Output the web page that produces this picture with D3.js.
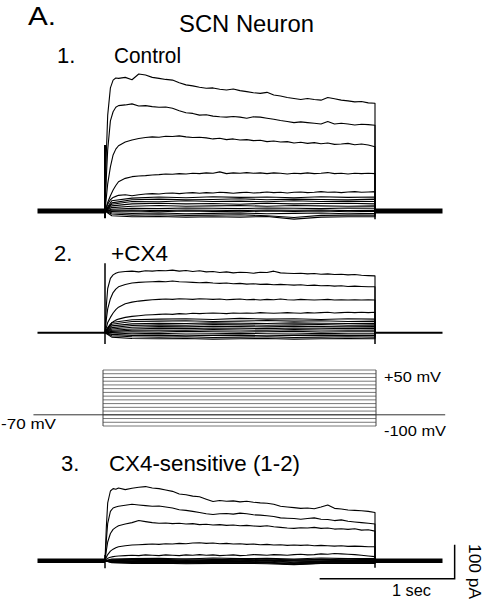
<!DOCTYPE html>
<html>
<head>
<meta charset="utf-8">
<script src="https://cdn.jsdelivr.net/npm/d3@7"></script>
<style>
  body { margin: 0; background: #fff; }
  svg text { font-family: "Liberation Sans", Arial, sans-serif; fill: #000; }
</style>
</head>
<body>
<div id="chart"></div>
<script>
// time points (s) during the 2 s step; fine grid for big traces, coarse for small ones
const tFine = [0, 0.01, 0.02, 0.04, 0.06, 0.08, 0.1, 0.15, 0.2, 0.25, 0.3, 0.35, 0.4, 0.45, 0.5,
  0.55, 0.6, 0.65, 0.7, 0.75, 0.8, 0.85, 0.9, 0.95, 1.0, 1.05, 1.1, 1.15, 1.2, 1.25, 1.3, 1.35,
  1.4, 1.45, 1.5, 1.55, 1.6, 1.65, 1.7, 1.75, 1.8, 1.85, 1.9, 1.95, 2.0];
const tCoarse = [0, 0.05, 0.2, 0.4, 0.6, 0.8, 1.0, 1.2, 1.4, 1.6, 1.8, 2.0];

// command steps (mV) and holding potential
const stepVoltages = [50, 40, 30, 20, 10, 0, -10, -20, -30, -40, -50, -60, -70, -80, -90, -100];
const holdingV = -70;

// 1. Control currents (pA), +50..+10 mV on tFine
const controlLarge = [
  [0, 170, 282, 362, 385, 391, 390, 393, 386, 403, 400, 393, 390, 387, 385, 377, 371, 368, 364, 361, 362, 358, 356, 359, 354, 351, 348, 346, 349, 341, 338, 334, 331, 328, 331, 328, 326, 334, 330, 326, 324, 321, 322, 318, 317],
  [0, 100, 180, 265, 292, 305, 310, 312, 315, 309, 310, 307, 305, 306, 302, 295, 289, 287, 282, 283, 279, 277, 276, 278, 276, 273, 277, 276, 273, 270, 266, 263, 260, 262, 260, 258, 256, 263, 256, 258, 256, 253, 255, 254, 252],
  [0, 40, 80, 130, 165, 182, 192, 203, 209, 213, 216, 218, 217, 220, 219, 221, 218, 216, 217, 215, 212, 214, 210, 212, 209, 210, 207, 208, 204, 206, 203, 204, 200, 202, 199, 201, 198, 200, 196, 197, 199, 195, 197, 194, 189],
  [0, 12, 25, 45, 62, 75, 86, 96, 101, 103, 104, 106, 107, 109, 108, 110, 109, 111, 110, 112, 111, 115, 110, 112, 111, 113, 111, 112, 110, 112, 111, 109, 111, 110, 112, 110, 111, 113, 110, 111, 109, 111, 110, 111, 110],
  [0, 10, 20, 33, 40, 43, 46, 48, 45, 48, 50, 51, 50, 52, 53, 51, 53, 54, 52, 54, 53, 55, 54, 52, 54, 55, 53, 54, 56, 54, 55, 53, 55, 56, 54, 55, 57, 55, 56, 54, 56, 57, 55, 56, 57]
];
// 0..-100 mV on tCoarse
const controlSmall = [
  [0, 30, 38, 41, 39, 42, 40, 41, 39, 42, 40, 41],
  [0, 24, 33, 35, 33, 34, 36, 33, 35, 34, 33, 35],
  [0, 20, 28, 27, 30, 28, 29, 27, 30, 28, 29, 28],
  [0, 15, 21, 23, 21, 22, 20, 23, 21, 22, 23, 21],
  [0, 10, 14, 16, 14, 15, 16, 14, 16, 15, 14, 15],
  [0, 5, 8, 7, 9, 8, 7, 9, 8, 7, 9, 8],
  [0, 2, 3, 1, 3, 2, 1, 3, 2, 3, 1, 2],
  [0, -1, 0, -2, 0, -1, -2, 0, -1, 0, -2, -1],
  [0, -5, -7, -6, -8, -7, -6, -8, -7, -6, -8, -7],
  [0, -9, -12, -11, -13, -12, -11, -14, -19, -13, -12, -12],
  [0, -14, -17, -16, -18, -17, -18, -16, -24, -18, -17, -17]
];

// 2. +CX4 currents (pA), +50..+20 mV on tFine
const cx4Large = [
  [0, 80, 130, 160, 170, 175, 178, 180, 181, 179, 182, 181, 183, 182, 184, 181, 183, 180, 182, 179, 180, 177, 179, 176, 178, 177, 175, 178, 177, 181, 176, 175, 174, 175, 173, 174, 172, 173, 171, 172, 170, 171, 169, 168, 167],
  [0, 40, 70, 100, 118, 128, 135, 142, 146, 148, 149, 150, 151, 150, 152, 150, 149, 148, 147, 148, 146, 145, 146, 144, 145, 143, 144, 142, 143, 141, 142, 141, 140, 141, 139, 140, 138, 139, 137, 138, 136, 137, 136, 135, 135],
  [0, 15, 30, 45, 58, 68, 75, 85, 90, 93, 95, 97, 98, 99, 98, 100, 99, 98, 100, 99, 98, 99, 97, 98, 99, 97, 98, 96, 98, 97, 99, 97, 96, 98, 97, 96, 97, 98, 96, 97, 96, 97, 96, 97, 96],
  [0, 8, 15, 25, 32, 37, 40, 45, 48, 50, 52, 53, 54, 55, 54, 56, 55, 57, 56, 57, 58, 57, 56, 58, 57, 58, 57, 59, 58, 57, 58, 59, 58, 57, 59, 58, 59, 60, 58, 59, 60, 59, 60, 59, 60]
];
// +10..-100 mV on tCoarse
const cx4Small = [
  [0, 30, 38, 40, 41, 39, 42, 40, 41, 39, 41, 40],
  [0, 25, 33, 34, 35, 33, 34, 36, 34, 35, 33, 34],
  [0, 20, 26, 28, 27, 29, 28, 27, 29, 28, 27, 28],
  [0, 15, 21, 23, 22, 24, 23, 22, 23, 24, 22, 23],
  [0, 11, 16, 18, 17, 19, 18, 17, 19, 18, 17, 18],
  [0, 7, 11, 13, 12, 14, 13, 12, 14, 13, 12, 13],
  [0, 4, 7, 8, 7, 9, 8, 7, 9, 8, 7, 8],
  [0, 1, 3, 2, 4, 3, 2, 3, 4, 2, 3, 3],
  [0, -1, -3, -2, -4, -3, -2, -3, -4, -2, -3, -3],
  [0, -5, -8, -7, -9, -8, -7, -9, -8, -7, -8, -8],
  [0, -9, -12, -13, -12, -14, -13, -12, -14, -13, -12, -13],
  [0, -13, -17, -18, -17, -19, -18, -17, -19, -18, -17, -18]
];

// 3. CX4-sensitive (1-2) currents (pA), +50..+10 mV on tFine
const diffLarge = [
  [0, 100, 170, 205, 212, 210, 214, 209, 213, 216, 218, 214, 212, 208, 204, 196, 194, 190, 188, 181, 174, 177, 175, 176, 173, 175, 172, 170, 169, 166, 160, 158, 156, 154, 155, 153, 158, 164, 154, 152, 149, 148, 147, 145, 142],
  [0, 60, 110, 145, 155, 158, 160, 163, 166, 164, 162, 160, 161, 158, 155, 150, 148, 145, 142, 138, 136, 138, 139, 137, 140, 138, 135, 134, 132, 130, 126, 125, 124, 122, 124, 126, 122, 121, 118, 120, 116, 114, 112, 110, 108],
  [0, 30, 55, 80, 92, 98, 103, 108, 112, 118, 115, 112, 110, 111, 109, 110, 108, 109, 106, 107, 105, 106, 104, 105, 103, 104, 102, 101, 103, 100, 98, 96, 95, 97, 96, 98, 95, 96, 93, 94, 92, 94, 90, 91, 87],
  [0, 10, 18, 28, 34, 38, 41, 44, 46, 47, 48, 49, 48, 50, 49, 51, 50, 52, 53, 51, 52, 50, 51, 49, 50, 48, 49, 47, 48, 46, 47, 45, 46, 45, 46, 44, 45, 44, 43, 44, 42, 43, 42, 41, 41],
  [0, 4, 7, 10, 12, 13, 14, 15, 16, 15, 17, 16, 15, 17, 16, 15, 17, 16, 18, 16, 17, 15, 16, 17, 15, 16, 18, 17, 16, 18, 17, 16, 18, 19, 17, 18, 20, 19, 21, 20, 19, 18, 16, 14, 12]
];
// 0..-100 mV on tCoarse
const diffSmall = [
  [0, 5, 6, 7, 5, 8, 6, 7, 5, 8, 6, 6],
  [0, 3, 4, 3, 5, 4, 3, 5, 2, 4, 3, 4],
  [0, 2, 2, 3, 1, 2, 3, 1, 3, 2, 1, 2],
  [0, 1, 0, 2, -1, 1, 0, 2, 0, -1, 1, 0],
  [0, 0, -1, 1, -2, 0, -1, 1, -1, -2, 0, -1],
  [0, -1, -2, 0, -3, -1, -2, 0, -4, -2, -1, -2],
  [0, -2, -3, -1, -4, -2, -3, -1, -6, -3, -2, -3],
  [0, -3, -4, -2, -5, -3, -4, -5, -8, -4, -3, -4],
  [0, -4, -5, -3, -6, -5, -4, -6, -10, -5, -4, -5],
  [0, -5, -6, -5, -7, -6, -7, -6, -11, -7, -6, -6],
  [0, -6, -8, -7, -9, -8, -7, -9, -12, -8, -7, -8]
];

// capacitive transients at step onset [min, max] and at step end (min), pA
const onsetTransients = [[-21, 194], [-33, 204], [-22, 17]];
const offsetTransients = [-24, -33, -21];

const panelNumbers = ["1.", "2.", "3."];
const panelTitles = ["Control", "+CX4", "CX4-sensitive (1-2)"];

class TraceFigure {
  constructor(_config) {
    this.config = {
      parentElement: _config.parentElement,
      containerWidth: _config.containerWidth || 487,
      containerHeight: _config.containerHeight || 611,
      timeRange: _config.timeRange || [37.5, 442.5],
      pxPer100pA: _config.pxPer100pA || 34,
    };
    this.initVis();
  }

  initVis() {
    let vis = this;

    vis.svg = d3
      .select(vis.config.parentElement)
      .append("svg")
      .attr("width", vis.config.containerWidth)
      .attr("height", vis.config.containerHeight);

    vis.xScale = d3.scaleLinear().domain([-0.5, 2.5]).range(vis.config.timeRange);

    // baselines (px) and onset line widths for each current panel
    vis.panels = [
      { base: 211, large: controlLarge, small: controlSmall, band: 5, numX: 57, numY: 63, titleX: 114, titleLen: 67 },
      { base: 332.7, large: cx4Large, small: cx4Small, band: 2, numX: 54, numY: 261, titleX: 111, titleLen: 57 },
      { base: 560.7, large: diffLarge, small: diffSmall, band: 4.5, numX: 61, numY: 471, titleX: 109, titleLen: 191 }
    ];

    vis.panels.forEach((p) => {
      p.yScale = d3
        .scaleLinear()
        .domain([0, 100])
        .range([p.base, p.base - vis.config.pxPer100pA]);
    });

    vis.vScale = d3.scaleLinear().domain([-100, 50]).range([426, 370]);

    vis.renderVis();
  }

  renderVis() {
    let vis = this;
    const x = vis.xScale;

    // headings
    vis.svg.append("text").text("A.")
      .attr("x", 28).attr("y", 25)
      .attr("font-size", 26).attr("textLength", 28).attr("lengthAdjust", "spacingAndGlyphs");
    vis.svg.append("text").text("SCN Neuron")
      .attr("x", 179).attr("y", 32)
      .attr("font-size", 23).attr("textLength", 135).attr("lengthAdjust", "spacingAndGlyphs");

    vis.panels.forEach((p, i) => {
      const y = p.yScale;
      const g = vis.svg.append("g").attr("class", "panel-" + (i + 1));

      g.append("text").text(panelNumbers[i])
        .attr("x", p.numX).attr("y", p.numY).attr("font-size", 22);
      g.append("text").text(panelTitles[i])
        .attr("x", p.titleX).attr("y", p.numY).attr("font-size", 22)
        .attr("textLength", p.titleLen).attr("lengthAdjust", "spacingAndGlyphs");

      const line = d3.line().x((d) => x(d[0])).y((d) => y(d[1]));

      const traces = [];
      p.large.forEach((vals) => traces.push(tFine.map((t, k) => [t, vals[k]])));
      p.small.forEach((vals) => traces.push(tCoarse.map((t, k) => [t, vals[k]])));

      // holding current before and after the step
      g.selectAll(".hold")
        .data([[-0.5, 0], [2, 2.5]])
        .enter().append("line")
        .attr("class", "hold")
        .attr("x1", (d) => x(d[0])).attr("x2", (d) => x(d[1]))
        .attr("y1", y(0)).attr("y2", y(0))
        .attr("stroke", "#000").attr("stroke-width", p.band);

      g.selectAll(".trace")
        .data(traces)
        .enter().append("path")
        .attr("class", "trace")
        .attr("d", (d) => line([[0, 0]].concat(d, [[2, 0]])))
        .attr("fill", "none")
        .attr("stroke", "#000")
        .attr("stroke-width", 1.1)
        .attr("stroke-linejoin", "round");

      // capacitive transients
      g.append("line")
        .attr("x1", x(0)).attr("x2", x(0))
        .attr("y1", y(onsetTransients[i][0])).attr("y2", y(onsetTransients[i][1]))
        .attr("stroke", "#000").attr("stroke-width", i === 0 ? 2 : 1.5);
      g.append("line")
        .attr("x1", x(2)).attr("x2", x(2))
        .attr("y1", y(offsetTransients[i])).attr("y2", y(0))
        .attr("stroke", "#000").attr("stroke-width", 1.5);
    });

    // voltage protocol
    const v = vis.vScale;
    const proto = vis.svg.append("g").attr("class", "protocol");
    proto.selectAll(".step")
      .data(stepVoltages)
      .enter().append("line")
      .attr("class", "step")
      .attr("x1", x(0) - 2).attr("x2", x(2) + 1)
      .attr("y1", (d) => v(d)).attr("y2", (d) => v(d))
      .attr("stroke", "#777").attr("stroke-width", 1);
    proto.selectAll(".edge")
      .data([0, 2])
      .enter().append("line")
      .attr("class", "edge")
      .attr("x1", (d) => x(d) + (d === 0 ? -2 : 1)).attr("x2", (d) => x(d) + (d === 0 ? -2 : 1))
      .attr("y1", v(50)).attr("y2", v(-100))
      .attr("stroke", "#444").attr("stroke-width", 1);
    proto.append("line")
      .attr("x1", x(-0.53)).attr("x2", x(2.52))
      .attr("y1", v(holdingV)).attr("y2", v(holdingV))
      .attr("stroke", "#333").attr("stroke-width", 1);

    proto.append("text").text("+50 mV")
      .attr("x", 384).attr("y", 382).attr("font-size", 14)
      .attr("textLength", 57).attr("lengthAdjust", "spacingAndGlyphs");
    proto.append("text").text("-100 mV")
      .attr("x", 384).attr("y", 436).attr("font-size", 14)
      .attr("textLength", 62).attr("lengthAdjust", "spacingAndGlyphs");
    proto.append("text").text("-70 mV")
      .attr("x", 1).attr("y", 429).attr("font-size", 14)
      .attr("textLength", 55).attr("lengthAdjust", "spacingAndGlyphs");

    // scale bars: 1 sec x 100 pA
    const y3 = vis.panels[2].yScale;
    const barRight = x(2.59);
    const barLeft = barRight - (x(1) - x(0));
    const barBottom = y3(-53);
    const barTop = y3(47);
    vis.svg.append("path")
      .attr("d", `M${barLeft},${barBottom}H${barRight}V${barTop}`)
      .attr("fill", "none").attr("stroke", "#000").attr("stroke-width", 1.5);
    vis.svg.append("text").text("1 sec")
      .attr("x", 392).attr("y", 596).attr("font-size", 16)
      .attr("textLength", 39).attr("lengthAdjust", "spacingAndGlyphs");
    vis.svg.append("text").text("100 pA")
      .attr("transform", "translate(469,544) rotate(90)")
      .attr("font-size", 17)
      .attr("textLength", 55).attr("lengthAdjust", "spacingAndGlyphs");
  }
}

new TraceFigure({ parentElement: "#chart" });
</script>
</body>
</html>
